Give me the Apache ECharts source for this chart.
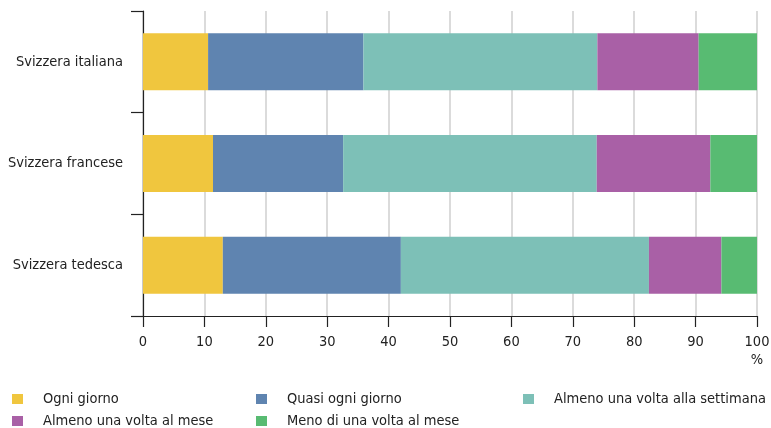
<!DOCTYPE html>
<html>
<head>
<meta charset="utf-8">
<script src="https://cdn.jsdelivr.net/npm/echarts@6/dist/echarts.min.js"></script>
<style>
  html, body { margin: 0; padding: 0; background: #fff; }
  #chart { width: 771px; height: 428px; }
</style>
</head>
<body>
<div id="chart"></div>
<script>
// Regions, listed top to bottom
const regions = ['Svizzera italiana', 'Svizzera francese', 'Svizzera tedesca'];

// Frequency shares (%) per region
const ogniGiorno       = [10.6, 11.4, 13.0];
const quasiOgniGiorno  = [25.3, 21.2, 29.0];
const settimanale      = [38.1, 41.3, 40.4];
const mensile          = [16.5, 18.5, 11.8];
const menoDiMensile    = [9.5, 7.6, 5.8];

const seriesNames = [
  'Ogni giorno',
  'Quasi ogni giorno',
  'Almeno una volta alla settimana',
  'Almeno una volta al mese',
  'Meno di una volta al mese'
];
const seriesData = [ogniGiorno, quasiOgniGiorno, settimanale, mensile, menoDiMensile];
const colors = ['#f0c63e', '#5f84b0', '#7dc0b7', '#a960a6', '#58bb72'];

const xTicks = [0, 10, 20, 30, 40, 50, 60, 70, 80, 90, 100];

const FONT = '"DejaVu Sans Condensed", "Liberation Sans Narrow", sans-serif';
const FS = 14.5;
const TEXT = '#222';

// Legend slots: [left, top] of each entry
const legendPos = [
  [12, 391.5], [256, 391.5], [523, 391.5],
  [12, 413.5], [256, 413.5]
];

const chart = echarts.init(document.getElementById('chart'), null, { renderer: 'canvas' });

chart.setOption({
  animation: false,
  textStyle: { fontFamily: FONT },
  grid: { left: 143, right: 14, top: 11, height: 305, outerBoundsMode: 'none', containLabel: false },
  xAxis: {
    type: 'value',
    min: xTicks[0],
    max: xTicks[xTicks.length - 1],
    interval: 10,
    axisLine: { show: true, lineStyle: { color: '#222', width: 1.2 } },
    axisTick: { show: true, length: 11, lineStyle: { color: '#222', width: 1.2 } },
    axisLabel: { color: TEXT, fontSize: FS, fontFamily: FONT, margin: 19 },
    splitLine: { show: true, lineStyle: { color: '#cfcfcf', width: 1.5 } }
  },
  yAxis: {
    type: 'category',
    data: regions,
    inverse: true,
    axisLine: { show: true, lineStyle: { color: '#222', width: 1.2 } },
    axisTick: { show: true, inside: false, length: 12, lineStyle: { color: '#222', width: 1.2 } },
    axisLabel: { color: TEXT, fontSize: FS, fontFamily: FONT, margin: 20 },
    splitLine: { show: false }
  },
  legend: seriesNames.map((name, i) => ({
    data: [name],
    left: legendPos[i][0],
    top: legendPos[i][1],
    padding: 0,
    itemWidth: 11,
    itemHeight: 10,
    itemGap: 0,
    icon: 'rect',
    selectedMode: false,
    textStyle: { color: TEXT, fontSize: FS, fontFamily: FONT, padding: [0, 0, 0, 15] }
  })),
  graphic: [{
    type: 'text',
    x: 757,
    y: 360,
    style: {
      text: '%', fill: TEXT, font: FS + 'px ' + FONT,
      align: 'center', verticalAlign: 'middle'
    }
  }],
  series: seriesNames.map((name, i) => ({
    name,
    type: 'bar',
    stack: 'total',
    barCategoryGap: '44%',
    data: seriesData[i],
    itemStyle: { color: colors[i] },
    emphasis: { disabled: true }
  }))
});
</script>
</body>
</html>
